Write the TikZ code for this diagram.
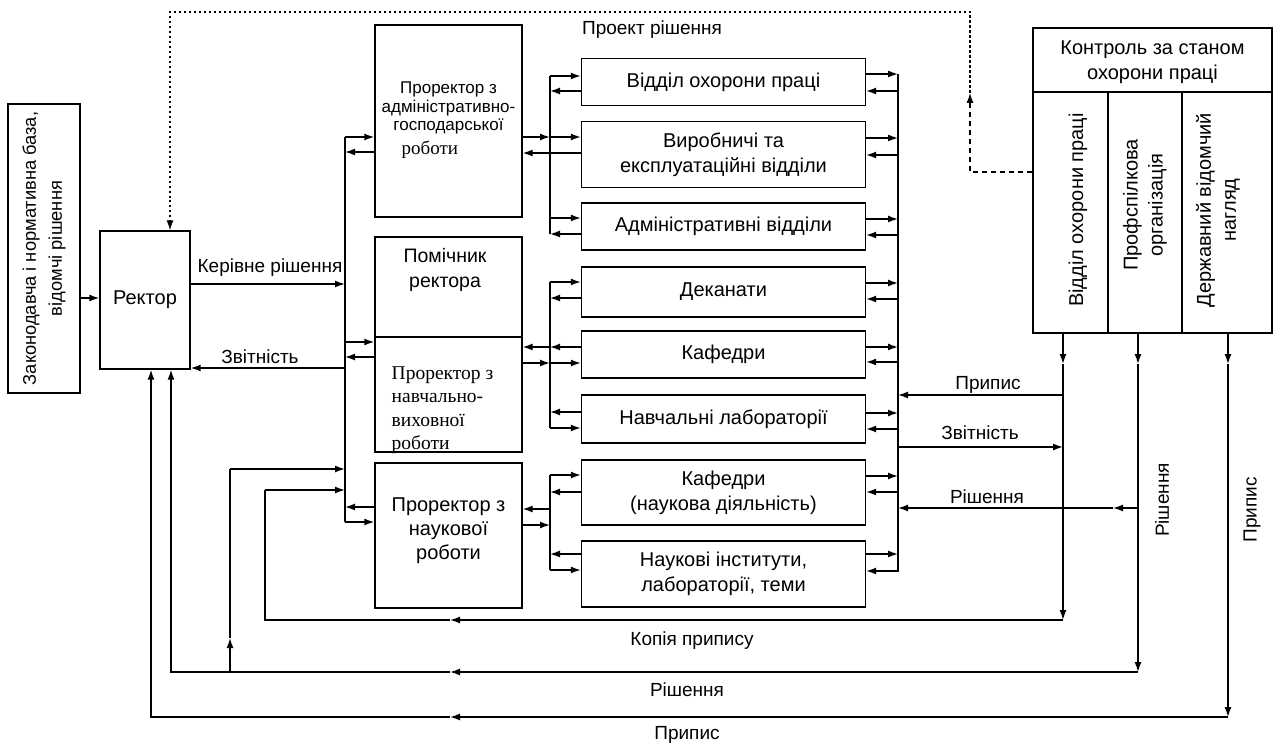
\documentclass[tikz,border=0pt]{standalone}
\usepackage{fontspec}
\setmainfont{Liberation Sans}
\newfontfamily\serifcyr{Liberation Serif}
\usetikzlibrary{arrows.meta}
\begin{document}
\begin{tikzpicture}[x=1pt,y=-1pt,
  line width=1.4pt,
  arr/.style={-{Latex[length=10pt,width=7pt]}},
  box/.style={draw, rectangle, inner sep=0pt, align=center, font=\fontsize{20}{25}\selectfont},
  lab/.style={font=\fontsize{19}{23}\selectfont, inner sep=1pt},
  smalltxt/.style={font=\fontsize{17}{18.5}\selectfont, align=center, inner sep=0pt},
  dotline/.style={line width=1.1pt, dash pattern=on 2.5pt off 2.5pt},
  dashline/.style={line width=1.1pt, dash pattern=on 5pt off 4pt},
]
\useasboundingbox[fill=white] (0,0) rectangle (1277,751);

% ---- boxes ----
\node[box, minimum width=72, minimum height=289] (law) at (44,248.5) {};
\node[rotate=90, align=center, font=\fontsize{18.3}{26}\selectfont] (lawtxt) at (law.center) {Законодавча і нормативна база,\\відомчі рішення};
\node[box, minimum width=90, minimum height=138] (rector) at (145,300) {Ректор};

\node[box, minimum width=147, minimum height=192] (pa) at (448.5,121) {};
\node[smalltxt] (patxt) at (448.5,108) {Проректор з\\адміністративно-\\господарської};
\node[anchor=base west, inner sep=0pt, font=\serifcyr\fontsize{19}{23}\selectfont] (patxt2) at (401,155) {роботи};
\node[box, minimum width=147, minimum height=100] (pom) at (448.5,287) {};
\node[lab, align=center, font=\fontsize{19.5}{25}\selectfont] (pomtxt) at (445,270) {Помічник\\ректора};
\node[box, minimum width=147, minimum height=115] (pnv) at (448.5,394.5) {};
\node[align=left, anchor=north west, inner sep=0pt, font=\serifcyr\fontsize{19.5}{23.5}\selectfont] (pnvtxt) at (391,366) {Проректор з\\навчально-\\виховної\\роботи};
\node[box, minimum width=147, minimum height=145] (ps) at (448.5,535.5) {};
\node[lab, align=center, font=\fontsize{20}{24}\selectfont] (pstxt) at (448.5,531) {Проректор з\\наукової\\роботи};

\node[box, minimum width=284, minimum height=47] (otd) at (723.5,82) {Відділ охорони праці};
\node[box, minimum width=284, minimum height=66] (vyr) at (723.5,154.5) {Виробничі та\\експлуатаційні відділи};
\node[box, minimum width=284, minimum height=47] (adm) at (723.5,226.5) {Адміністративні відділи};
\node[box, minimum width=284, minimum height=50] (dek) at (723.5,292) {Деканати};
\node[box, minimum width=284, minimum height=47] (kaf) at (723.5,354.5) {Кафедри};
\node[box, minimum width=284, minimum height=48] (nl) at (723.5,419) {Навчальні лабораторії};
\node[box, minimum width=284, minimum height=65] (kn) at (723.5,492.5) {Кафедри\\(наукова діяльність)};
\node[box, minimum width=284, minimum height=66] (ni) at (723.5,574) {Наукові інститути,\\лабораторії, теми};

\node[box, minimum width=239, minimum height=305] (ctrl) at (1152.5,180.5) {};
\node[lab, align=center, font=\fontsize{20}{25}\selectfont] (ctrlh) at (1152.5,62) {Контроль за станом\\охорони праці};
\draw (ctrl.west|-0,92) -- (ctrl.east|-0,92);
\draw (1108,92) -- (1108,0|-ctrl.south);
\draw (1182,92) -- (1182,0|-ctrl.south);
\node[rotate=90, lab, font=\fontsize{20}{25}\selectfont] (c1txt) at (1078,210) {Відділ охорони праці};
\node[rotate=90, lab, align=center, font=\fontsize{20}{25}\selectfont] (c2txt) at (1145,205) {Профспілкова\\організація};
\node[rotate=90, lab, align=center, font=\fontsize{20}{25}\selectfont] (c3txt) at (1218,210) {Державний відомчий\\нагляд};

% ---- left side ----
\draw[arr] (law.east|-0,298) -- (rector.west|-0,298);
\draw[arr] (rector.east|-0,284) -- (345,284);
\node[lab] (kr) at (270,268) {Керівне рішення};
\draw[arr] (345,368) -- (rector.east|-0,368);
\node[lab] (zv1) at (260,357) {Звітність};

\draw (345,137) -- (345,522);
\draw[arr] (345,137) -- (pa.west|-0,137);
\draw[arr] (pa.west|-0,152) -- (345,152);
\draw[arr] (345,342) -- (pnv.west|-0,342);
\draw[arr] (pnv.west|-0,357) -- (345,357);
\draw[arr] (ps.west|-0,507) -- (345,507);
\draw[arr] (345,522) -- (ps.west|-0,522);

% ---- middle buses ----
\draw (550,76) -- (550,234);
\draw[arr] (550,76) -- (otd.west|-0,76);
\draw[arr] (otd.west|-0,91) -- (550,91);
\draw[arr] (pa.east|-0,137) -- (550,137);
\draw[arr] (550,137) -- (vyr.west|-0,137);
\draw[arr] (vyr.west|-0,153) -- (pa.east|-0,153);
\draw[arr] (550,218) -- (adm.west|-0,218);
\draw[arr] (adm.west|-0,234) -- (550,234);

\draw (550,282) -- (550,428);
\draw[arr] (550,282) -- (dek.west|-0,282);
\draw[arr] (dek.west|-0,298) -- (550,298);
\draw[arr] (kaf.west|-0,347) -- (550,347);
\draw[arr] (550,347) -- (pnv.east|-0,347);
\draw[arr] (pnv.east|-0,363) -- (550,363);
\draw[arr] (550,363) -- (kaf.west|-0,363);
\draw[arr] (nl.west|-0,412) -- (550,412);
\draw[arr] (550,428) -- (nl.west|-0,428);

\draw (550,475) -- (550,570);
\draw[arr] (550,475) -- (kn.west|-0,475);
\draw[arr] (kn.west|-0,492) -- (550,492);
\draw[arr] (550,509) -- (ps.east|-0,509);
\draw[arr] (ps.east|-0,525) -- (550,525);
\draw[arr] (ni.west|-0,554) -- (550,554);
\draw[arr] (550,570) -- (ni.west|-0,570);

% ---- right bus ----
\draw (898,74) -- (898,572);
\foreach \n/\ya/\yb in {otd/74/91, vyr/138/155, adm/219/235, dek/283/299, kaf/347/362, nl/413/429, kn/476/492, ni/554/571}{
  \draw[arr] (\n.east|-0,\ya) -- (898,\ya);
  \draw[arr] (898,\yb) -- (\n.east|-0,\yb);
}

% ---- right side connections ----
\draw[arr] (1063,395) -- (898,395);
\node[lab] (pr1) at (988,385) {Припис};
\draw[arr] (898,447) -- (1063,447);
\node[lab] (zv2) at (980,433) {Звітність};
\draw[arr] (1138,508) -- (1113,508);
\draw[arr] (1113,508) -- (898,508);
\node[lab] (ri1) at (987,497) {Рішення};
\node[rotate=90, lab] (ri2) at (1162,500) {Рішення};
\node[rotate=90, lab] (pr2) at (1252,510) {Припис};

% ---- verticals from control columns ----
\draw[arr] (1063,0|-ctrl.south) -- (1063,364);
\draw[arr] (1063,364) -- (1063,620);
\draw[arr] (1138,0|-ctrl.south) -- (1138,364);
\draw[arr] (1138,364) -- (1138,672);
\draw[arr] (1228,0|-ctrl.south) -- (1228,364);
\draw[arr] (1228,364) -- (1228,717);

% ---- bottom loops ----
\draw[arr] (1063,620) -- (450,620);
\draw (450,620) -- (265,620) -- (265,490);
\draw[arr] (265,490) -- (345,490);
\node[lab] (kp) at (692,641) {Копія припису};

\draw[arr] (1138,672) -- (450,672);
\draw[arr] (450,672) -- (171,672) -- (171,0|-rector.south);
\draw[arr] (230,672) -- (230,638);
\draw (230,638) -- (230,469);
\draw[arr] (230,469) -- (345,469);
\node[lab] (ri3) at (687,690) {Рішення};

\draw[arr] (1228,717) -- (450,717);
\draw[arr] (450,717) -- (151,717) -- (151,0|-rector.south);
\node[lab] (pr3) at (687,735) {Припис};

% ---- dashed feedback ----
\draw[dashline, arr] (ctrl.west|-0,172) -- (970,172) -- (970,93);
\draw[dotline] (970,93) -- (970,12) -- (170,12) -- (170,200);
\draw[dotline, arr] (170,200) -- (170,0|-rector.north);
\node[lab] (proj) at (652,30) {Проект рішення};
\end{tikzpicture}
\end{document}
